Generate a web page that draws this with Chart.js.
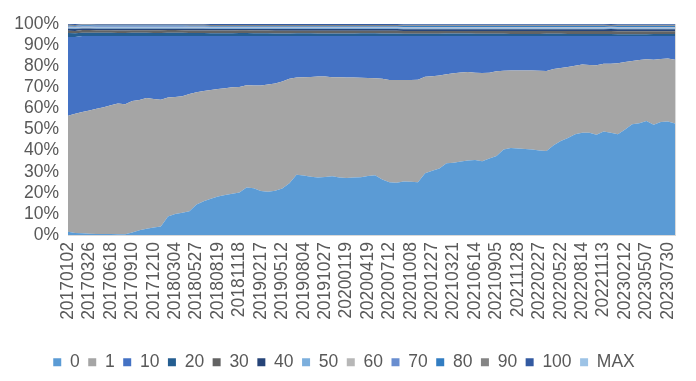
<!DOCTYPE html>
<html>
<head>
<meta charset="utf-8">
<script src="https://cdn.jsdelivr.net/npm/chart.js@4/dist/chart.umd.min.js"></script>
<style>
  html, body { margin: 0; padding: 0; background: #fff; }
  #wrap { width: 696px; height: 381px; position: relative; }
</style>
</head>
<body>
<div id="wrap"><canvas id="chart"></canvas></div>
<script>
// Weekly data, one sample every 4 weeks (week index 0..340)
const weekIndex = [
  0, 4, 8, 12, 16, 20, 24, 28, 32, 36, 40, 44, 48, 52, 56, 60, 64, 68, 72, 76,
  80, 84, 88, 92, 96, 100, 104, 108, 112, 116, 120, 124, 128, 132, 136, 140, 144, 148, 152, 156,
  160, 164, 168, 172, 176, 180, 184, 188, 192, 196, 200, 204, 208, 212, 216, 220, 224, 228, 232, 236,
  240, 244, 248, 252, 256, 260, 264, 268, 272, 276, 280, 284, 288, 292, 296, 300, 304, 308, 312, 316,
  320, 324, 328, 332, 336, 340,
];

// Labels shown every 12 weeks
const tickLabels = [
  '20170102', '20170326', '20170618', '20170910', '20171210', '20180304', '20180527',
  '20180819', '20181118', '20190217', '20190512', '20190804', '20191027', '20200119',
  '20200419', '20200712', '20201008', '20201227', '20210321', '20210614', '20210905',
  '20211128', '20220227', '20220522', '20220814', '20221113', '20230212', '20230507',
  '20230730',
];

const seriesNames = ['0', '1', '10', '20', '30', '40', '50', '60', '70', '80', '90', '100', 'MAX'];
const seriesColors = ['#5B9BD5', '#A5A5A5', '#4472C4', '#255E91', '#636363', '#264478', '#7CAFDD',
  '#B7B7B7', '#698ED0', '#327DC2', '#848484', '#335AA1', '#9DC3E6'];

// share of each bucket, %
const s0 = [
  1.5, 1.0, 0.8, 0.6, 0.5, 0.5, 0.5, 0.4, 0.3, 1.2,
  2.2, 3.0, 3.5, 4.0, 8.8, 10.0, 10.5, 11.2, 14.5, 16.0,
  17.2, 18.2, 19.0, 19.6, 20.2, 22.5, 22.2, 20.8, 20.5, 21.0,
  22.0, 24.5, 28.5, 28.2, 27.6, 27.3, 27.5, 27.8, 27.2, 27.0,
  27.2, 27.4, 28.0, 28.3, 26.3, 25.0, 24.8, 25.4, 25.2, 25.0,
  29.3, 30.5, 31.5, 34.0, 34.2, 34.8, 35.3, 35.5, 35.0, 36.2,
  37.5, 40.5, 41.2, 41.0, 40.8, 40.5, 40.0, 39.8, 42.5, 44.5,
  46.0, 47.8, 48.5, 48.5, 47.5, 49.0, 48.5, 47.8, 50.0, 52.5,
  53.0, 54.0, 52.3, 53.5, 53.8, 52.8,
];
const s1 = [
  55.0, 56.5, 57.5, 58.4, 59.3, 60.0, 61.0, 61.9, 61.7, 62.3,
  61.8, 61.9, 61.0, 60.1, 56.4, 55.4, 55.3, 55.6, 53.2, 52.2,
  51.5, 51.0, 50.6, 50.4, 50.0, 48.5, 48.7, 50.0, 50.8, 50.8,
  50.8, 49.5, 46.1, 46.6, 47.3, 47.8, 47.6, 47.0, 47.6, 47.7,
  47.4, 47.1, 46.4, 46.0, 47.7, 48.5, 48.7, 48.1, 48.3, 48.6,
  45.7, 44.7, 44.1, 42.2, 42.5, 42.2, 41.9, 41.4, 41.8, 40.7,
  40.1, 37.3, 36.8, 37.0, 37.2, 37.5, 37.8, 37.9, 36.2, 34.7,
  33.6, 32.4, 32.3, 32.1, 32.9, 32.2, 32.7, 33.6, 32.0, 30.0,
  29.9, 29.3, 30.8, 29.9, 29.8, 30.3,
];
const s10 = [
  37.3, 36.3, 36.0, 35.3, 34.5, 33.8, 32.8, 32.0, 32.3, 30.8,
  30.3, 29.4, 29.8, 30.2, 29.1, 28.9, 28.5, 27.5, 26.6, 26.1,
  25.6, 25.1, 24.7, 24.3, 24.1, 23.3, 23.4, 23.5, 23.0, 22.5,
  21.5, 20.3, 19.7, 19.5, 19.4, 19.2, 19.2, 19.5, 19.5, 19.6,
  19.7, 19.8, 19.9, 20.0, 20.3, 20.8, 20.8, 20.8, 20.8, 20.7,
  19.3, 19.1, 18.7, 18.1, 17.6, 17.3, 17.1, 17.4, 17.5, 17.4,
  16.7, 16.5, 16.3, 16.3, 16.3, 16.3, 16.5, 16.6, 15.6, 15.1,
  14.7, 14.1, 13.5, 13.7, 13.9, 13.1, 13.1, 12.9, 12.3, 11.8,
  11.4, 11.0, 11.2, 10.9, 10.7, 11.2,
];
const s20 = [
  1.9, 1.8, 1.6, 1.6, 1.5, 1.5, 1.5, 1.4, 1.4, 1.5,
  1.5, 1.5, 1.4, 1.4, 1.5, 1.5, 1.5, 1.4, 1.4, 1.4,
  1.3, 1.3, 1.3, 1.3, 1.4, 1.4, 1.3, 1.3, 1.3, 1.2,
  1.2, 1.2, 1.3, 1.3, 1.3, 1.2, 1.2, 1.2, 1.2, 1.2,
  1.2, 1.3, 1.3, 1.3, 1.2, 1.2, 1.2, 1.1, 1.1, 1.1,
  1.1, 1.1, 1.1, 1.2, 1.2, 1.2, 1.2, 1.1, 1.1, 1.1,
  1.1, 1.1, 1.0, 1.0, 1.0, 1.0, 1.0, 1.1, 1.1, 1.1,
  1.0, 1.0, 1.0, 1.0, 1.0, 1.0, 1.0, 0.9, 0.9, 0.9,
  0.9, 0.9, 1.0, 1.0, 1.0, 1.0,
];
const s30 = [
  1.1, 1.1, 1.2, 1.2, 1.2, 1.2, 1.2, 1.2, 1.2, 1.2,
  1.2, 1.2, 1.3, 1.3, 1.3, 1.3, 1.2, 1.2, 1.2, 1.2,
  1.3, 1.3, 1.3, 1.3, 1.3, 1.3, 1.3, 1.3, 1.3, 1.3,
  1.3, 1.3, 1.2, 1.2, 1.2, 1.3, 1.3, 1.3, 1.3, 1.3,
  1.3, 1.2, 1.2, 1.2, 1.3, 1.3, 1.3, 1.3, 1.3, 1.3,
  1.3, 1.3, 1.3, 1.2, 1.2, 1.2, 1.2, 1.3, 1.3, 1.3,
  1.3, 1.3, 1.4, 1.4, 1.4, 1.4, 1.4, 1.3, 1.3, 1.3,
  1.4, 1.4, 1.4, 1.4, 1.4, 1.4, 1.4, 1.4, 1.4, 1.4,
  1.4, 1.4, 1.3, 1.3, 1.3, 1.3,
];
const s40 = [
  0.9, 0.9, 0.8, 0.8, 0.8, 0.8, 0.8, 0.9, 0.9, 0.8,
  0.8, 0.8, 0.8, 0.8, 0.7, 0.7, 0.8, 0.8, 0.8, 0.8,
  0.7, 0.7, 0.7, 0.7, 0.6, 0.6, 0.7, 0.7, 0.7, 0.8,
  0.8, 0.8, 0.8, 0.8, 0.8, 0.8, 0.8, 0.8, 0.8, 0.8,
  0.8, 0.8, 0.8, 0.8, 0.8, 0.8, 0.8, 0.8, 0.8, 0.8,
  0.8, 0.8, 0.8, 0.8, 0.8, 0.8, 0.8, 0.8, 0.8, 0.8,
  0.8, 0.8, 0.8, 0.8, 0.8, 0.8, 0.8, 0.8, 0.8, 0.8,
  0.8, 0.8, 0.8, 0.8, 0.8, 0.8, 0.9, 0.9, 0.9, 0.9,
  0.9, 0.9, 0.9, 0.9, 0.9, 0.9,
];
const s50 = [
  0.5, 0.5, 0.5, 0.5, 0.5, 0.5, 0.5, 0.5, 0.5, 0.5,
  0.5, 0.5, 0.5, 0.5, 0.5, 0.5, 0.5, 0.5, 0.5, 0.5,
  0.5, 0.5, 0.5, 0.5, 0.5, 0.5, 0.5, 0.5, 0.5, 0.5,
  0.5, 0.5, 0.5, 0.5, 0.5, 0.5, 0.5, 0.5, 0.5, 0.5,
  0.5, 0.5, 0.5, 0.5, 0.5, 0.5, 0.5, 0.5, 0.5, 0.5,
  0.5, 0.5, 0.5, 0.5, 0.5, 0.5, 0.5, 0.5, 0.5, 0.5,
  0.5, 0.5, 0.5, 0.5, 0.5, 0.5, 0.5, 0.5, 0.5, 0.5,
  0.5, 0.5, 0.5, 0.5, 0.5, 0.5, 0.5, 0.5, 0.5, 0.5,
  0.5, 0.5, 0.5, 0.5, 0.5, 0.5,
];
const s60 = [
  0.3, 0.3, 0.3, 0.3, 0.3, 0.3, 0.3, 0.3, 0.3, 0.3,
  0.3, 0.3, 0.3, 0.3, 0.3, 0.3, 0.3, 0.3, 0.3, 0.3,
  0.3, 0.3, 0.3, 0.3, 0.3, 0.3, 0.3, 0.3, 0.3, 0.3,
  0.3, 0.3, 0.3, 0.3, 0.3, 0.3, 0.3, 0.3, 0.3, 0.3,
  0.3, 0.3, 0.3, 0.3, 0.3, 0.3, 0.3, 0.3, 0.3, 0.3,
  0.3, 0.3, 0.3, 0.3, 0.3, 0.3, 0.3, 0.3, 0.3, 0.3,
  0.3, 0.3, 0.3, 0.3, 0.3, 0.3, 0.3, 0.3, 0.3, 0.3,
  0.3, 0.3, 0.3, 0.3, 0.3, 0.3, 0.3, 0.3, 0.3, 0.3,
  0.3, 0.3, 0.3, 0.3, 0.3, 0.3,
];
const s70 = [
  0.3, 0.3, 0.3, 0.3, 0.3, 0.3, 0.3, 0.3, 0.3, 0.3,
  0.3, 0.3, 0.3, 0.3, 0.3, 0.3, 0.3, 0.3, 0.3, 0.3,
  0.3, 0.3, 0.3, 0.3, 0.3, 0.3, 0.3, 0.3, 0.3, 0.3,
  0.3, 0.3, 0.3, 0.3, 0.3, 0.3, 0.3, 0.3, 0.3, 0.3,
  0.3, 0.3, 0.3, 0.3, 0.3, 0.3, 0.3, 0.3, 0.3, 0.3,
  0.3, 0.3, 0.3, 0.3, 0.3, 0.3, 0.3, 0.3, 0.3, 0.3,
  0.3, 0.3, 0.3, 0.3, 0.3, 0.3, 0.3, 0.3, 0.3, 0.3,
  0.3, 0.3, 0.3, 0.3, 0.3, 0.3, 0.3, 0.3, 0.3, 0.3,
  0.3, 0.3, 0.3, 0.3, 0.3, 0.3,
];
const s80 = [
  0.4, 0.4, 0.4, 0.4, 0.4, 0.4, 0.4, 0.4, 0.4, 0.4,
  0.4, 0.4, 0.4, 0.4, 0.4, 0.4, 0.4, 0.4, 0.4, 0.4,
  0.4, 0.4, 0.4, 0.4, 0.4, 0.4, 0.4, 0.4, 0.4, 0.4,
  0.4, 0.4, 0.4, 0.4, 0.4, 0.4, 0.4, 0.4, 0.4, 0.4,
  0.4, 0.4, 0.4, 0.4, 0.4, 0.4, 0.4, 0.4, 0.4, 0.4,
  0.4, 0.4, 0.4, 0.4, 0.4, 0.4, 0.4, 0.4, 0.4, 0.4,
  0.4, 0.4, 0.4, 0.4, 0.4, 0.4, 0.4, 0.4, 0.4, 0.4,
  0.4, 0.4, 0.4, 0.4, 0.4, 0.4, 0.4, 0.4, 0.4, 0.4,
  0.4, 0.4, 0.4, 0.4, 0.4, 0.4,
];
const s90 = [
  0.4, 0.4, 0.4, 0.4, 0.4, 0.4, 0.4, 0.4, 0.4, 0.4,
  0.4, 0.4, 0.4, 0.4, 0.4, 0.4, 0.4, 0.4, 0.4, 0.4,
  0.4, 0.4, 0.4, 0.4, 0.4, 0.4, 0.4, 0.4, 0.4, 0.4,
  0.4, 0.4, 0.4, 0.4, 0.4, 0.4, 0.4, 0.4, 0.4, 0.4,
  0.4, 0.4, 0.4, 0.4, 0.4, 0.4, 0.4, 0.4, 0.4, 0.4,
  0.4, 0.4, 0.4, 0.4, 0.4, 0.4, 0.4, 0.4, 0.4, 0.4,
  0.4, 0.4, 0.4, 0.4, 0.4, 0.4, 0.4, 0.4, 0.4, 0.4,
  0.4, 0.4, 0.4, 0.4, 0.4, 0.4, 0.4, 0.4, 0.4, 0.4,
  0.4, 0.4, 0.4, 0.4, 0.4, 0.4,
];
const s100 = [
  0.5, 0.5, 0.5, 0.5, 0.5, 0.5, 0.5, 0.5, 0.5, 0.5,
  0.5, 0.5, 0.5, 0.5, 0.5, 0.5, 0.5, 0.5, 0.5, 0.5,
  0.5, 0.5, 0.5, 0.5, 0.5, 0.5, 0.5, 0.5, 0.5, 0.5,
  0.5, 0.5, 0.5, 0.5, 0.5, 0.5, 0.5, 0.5, 0.5, 0.5,
  0.5, 0.5, 0.5, 0.5, 0.5, 0.5, 0.5, 0.5, 0.5, 0.5,
  0.5, 0.5, 0.5, 0.5, 0.5, 0.5, 0.5, 0.5, 0.5, 0.5,
  0.5, 0.5, 0.5, 0.5, 0.5, 0.5, 0.5, 0.5, 0.5, 0.5,
  0.5, 0.5, 0.5, 0.5, 0.5, 0.5, 0.5, 0.5, 0.5, 0.5,
  0.5, 0.5, 0.5, 0.5, 0.5, 0.5,
];
const sMax = [
  0.7, 0.7, 0.7, 0.7, 0.7, 0.7, 0.7, 0.7, 0.7, 0.7,
  0.7, 0.7, 0.7, 0.7, 0.7, 0.7, 0.7, 0.7, 0.7, 0.7,
  0.7, 0.7, 0.7, 0.7, 0.7, 0.7, 0.7, 0.7, 0.7, 0.7,
  0.7, 0.7, 0.7, 0.7, 0.7, 0.7, 0.7, 0.7, 0.7, 0.7,
  0.7, 0.7, 0.7, 0.7, 0.7, 0.7, 0.7, 0.7, 0.7, 0.7,
  0.7, 0.7, 0.7, 0.7, 0.7, 0.7, 0.7, 0.7, 0.7, 0.7,
  0.7, 0.7, 0.7, 0.7, 0.7, 0.7, 0.7, 0.7, 0.7, 0.7,
  0.7, 0.7, 0.7, 0.7, 0.7, 0.7, 0.7, 0.7, 0.7, 0.7,
  0.7, 0.7, 0.7, 0.7, 0.7, 0.7,
];

const seriesValues = [s0, s1, s10, s20, s30, s40, s50, s60, s70, s80, s90, s100, sMax];

const textColor = '#595959';
const font = { family: '"Liberation Sans", Arial, sans-serif', size: 17.5 };

const datasets = seriesNames.map((name, i) => ({
  label: name,
  data: seriesValues[i].map((v, j) => ({ x: weekIndex[j], y: v })),
  backgroundColor: seriesColors[i],
  borderColor: seriesColors[i],
  borderWidth: 0,
  pointRadius: 0,
  fill: i === 0 ? 'origin' : '-1',
  tension: 0,
}));

// thin light-gray frame on the right edge of the plot, like the Excel plot area
const plotFrame = {
  id: 'plotFrame',
  afterDatasetsDraw: chart => {
    const { ctx, chartArea } = chart;
    ctx.save();
    ctx.strokeStyle = '#D9D9D9';
    ctx.lineWidth = 1;
    ctx.beginPath();
    ctx.moveTo(chartArea.right + 0.5, chartArea.top);
    ctx.lineTo(chartArea.right + 0.5, chartArea.bottom);
    ctx.stroke();
    ctx.restore();
  },
};

new Chart(document.getElementById('chart'), {
  type: 'line',
  data: { datasets },
  plugins: [plotFrame],
  options: {
    responsive: true,
    maintainAspectRatio: false,
    animation: false,
    layout: { padding: { top: 24, right: 8, left: 0, bottom: 0 } },
    scales: {
      x: {
        type: 'linear',
        min: 0,
        max: 340,
        grid: { display: false, drawTicks: false },
        border: { display: true, color: '#D9D9D9' },
        ticks: {
          stepSize: 12,
          includeBounds: false,
          autoSkip: false,
          maxRotation: 90,
          minRotation: 90,
          padding: 7,
          color: textColor,
          font,
          callback: value => tickLabels[value / 12],
        },
        afterFit: scale => {
          scale.height = 110;
        },
      },
      y: {
        stacked: true,
        min: 0,
        max: 100,
        grid: { display: false, drawTicks: false },
        border: { display: true, color: '#D9D9D9' },
        ticks: {
          stepSize: 10,
          autoSkip: false,
          padding: 9,
          color: textColor,
          font,
          callback: value => `${value}%`,
        },
        afterFit: scale => {
          scale.width = 68;
        },
      },
    },
    plugins: {
      legend: {
        position: 'bottom',
        labels: {
          boxWidth: 8,
          boxHeight: 8,
          padding: 8.5,
          color: textColor,
          font,
        },
      },
      tooltip: { enabled: false },
    },
  },
});
</script>
</body>
</html>
